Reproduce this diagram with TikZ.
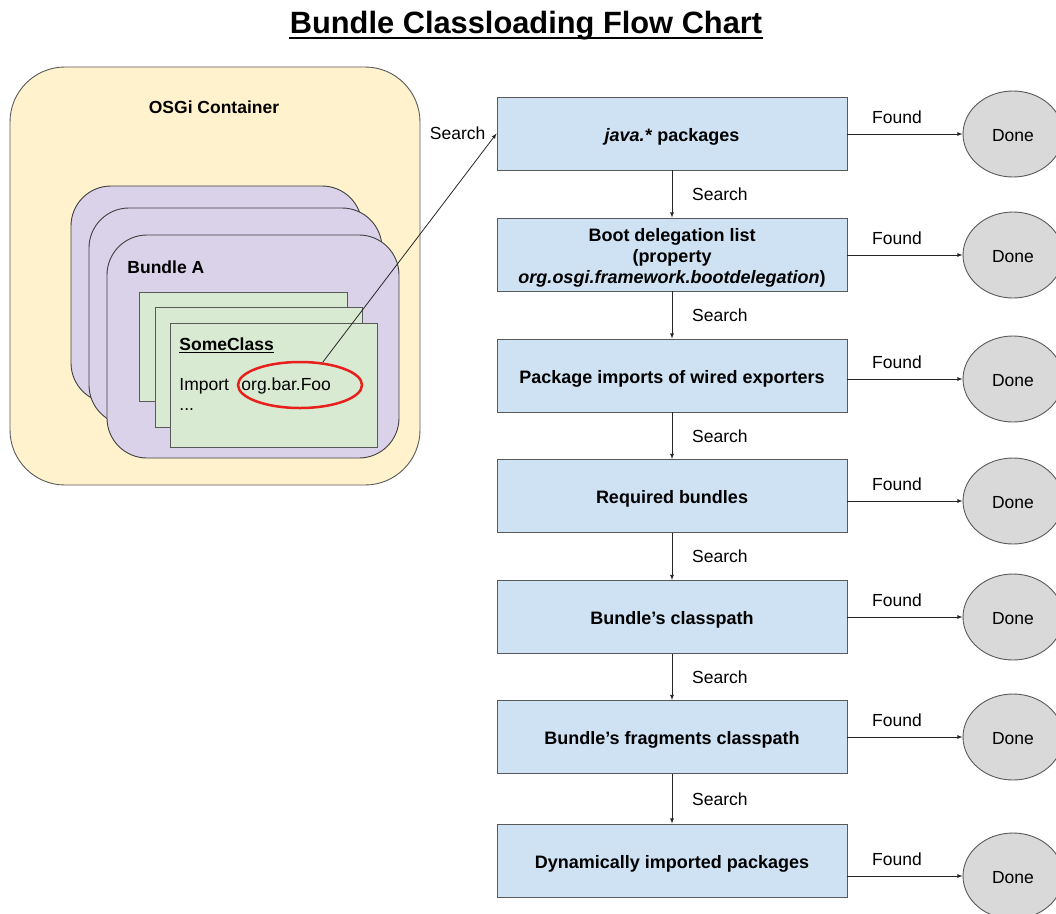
\documentclass[tikz,border=0pt]{standalone}
\usepackage{fontspec}
\setmainfont{Liberation Sans}
\usetikzlibrary{arrows,positioning,fit,shapes.geometric}
\definecolor{contfill}{HTML}{FFF2CC}
\definecolor{bundfill}{HTML}{D9D2E9}
\definecolor{clsfill}{HTML}{D9EAD3}
\definecolor{stepfill}{HTML}{CFE2F3}
\definecolor{donefill}{HTML}{D9D9D9}
\definecolor{edge}{HTML}{595959}
\definecolor{ring}{HTML}{E8201C}

\tikzset{
	stepbox/.style={draw=edge, fill=stepfill, minimum width=350pt, minimum height=73pt,
		font=\fontsize{18}{21}\selectfont\bfseries, align=center, inner sep=0pt,
		text depth=0pt},
	donenode/.style={ellipse, draw=edge, fill=donefill, minimum width=100pt,
		minimum height=86pt, inner sep=0pt, text depth=0pt, text height=15pt},
	txt/.style={inner sep=0pt, anchor=west},
	arr/.style={-latex, draw=black!85, line width=0.8pt}
}

\begin{document}
\fontsize{17.5}{21}\selectfont
\begin{tikzpicture}[x=1pt, y=-1pt, line width=0.9pt]
	\useasboundingbox (0,0) rectangle (1056,913);
	\clip (0,0) rectangle (1056,913);

	\node[font=\fontsize{30.8}{36}\selectfont\bfseries, inner sep=0pt] (title) at (526,26)
		{Bundle Classloading Flow Chart};
	\draw[line width=2pt] ([yshift=-4.5pt]title.base west) -- ([yshift=-4.5pt]title.base east);

	% container with the stacked bundles and classes
	\draw[draw=edge, fill=contfill, rounded corners=55pt] (10,67) rectangle (420,485);
	\node[font=\bfseries] (osgi) at (214,107) {OSGi Container};
	\foreach \Xa/\Ya/\Xb/\Yb in {71/186/362/403, 89/208/382/425, 107/235/399/458}
		\draw[draw=black!75, fill=bundfill, rounded corners=40pt] (\Xa,\Ya) rectangle (\Xb,\Yb);
	\node[txt, font=\bfseries] (bundlea) at (127,267) {Bundle A};
	\foreach \Xa/\Ya/\Xb/\Yb in {139/292/347/401, 155/307/362/427, 170/323/377/447}
		\draw[draw=edge, fill=clsfill] (\Xa,\Ya) rectangle (\Xb,\Yb);
	\node[txt, font=\bfseries] (someclass) at (179,344) {SomeClass};
	\draw[line width=1.2pt] ([yshift=-2.5pt]someclass.base west) -- ([yshift=-2.5pt]someclass.base east);
	\node[txt] (import) at (179,386) {Import};
	\node[txt] (fooname) at (241,386) {org.bar.Foo};
	\node[txt] (dots) at (179,410) {...};
	\node[ellipse, draw=ring, line width=2.5pt, minimum width=124pt, minimum height=46pt] (foo) at (300,385) {};

	% lookup steps
	\foreach \Name/\Y/\Ht/\Txt in {
		java/133.5/15.6/{\textit{java.*} packages},
		boot/254.5/57.6/{Boot delegation list\\(property\\\textit{org.osgi.framework.bootdelegation})},
		imports/375.5/15.6/{Package imports of wired exporters},
		required/496/15.6/{Required bundles},
		classpath/617/15.6/{Bundle’s classpath},
		fragments/737/15.6/{Bundle’s fragments classpath},
		dynamic/860.5/15.6/{Dynamically imported packages}}
		\node[stepbox, text height=\Ht pt] (\Name) at (672,\Y) {\Txt};

	\draw[arr] (foo.45) -- node[pos=1, left=5pt] {Search} (java.west);

	\foreach \A/\B in {java/boot, boot/imports, imports/required, required/classpath,
		classpath/fragments, fragments/dynamic}
		\draw[arr] (\A) -- node[right=14pt] {Search} (\B);

	\foreach \Name/\Y [count=\i] in {java/134, boot/255, imports/379, required/501,
		classpath/617, fragments/737, dynamic/876}
	{
		\node[donenode] (done\i) at (1013,\Y) {Done};
		\draw[arr] (\Name.east |- done\i) -- node[above=4pt, xshift=-8pt] {Found} (done\i);
	}
\end{tikzpicture}
\end{document}
